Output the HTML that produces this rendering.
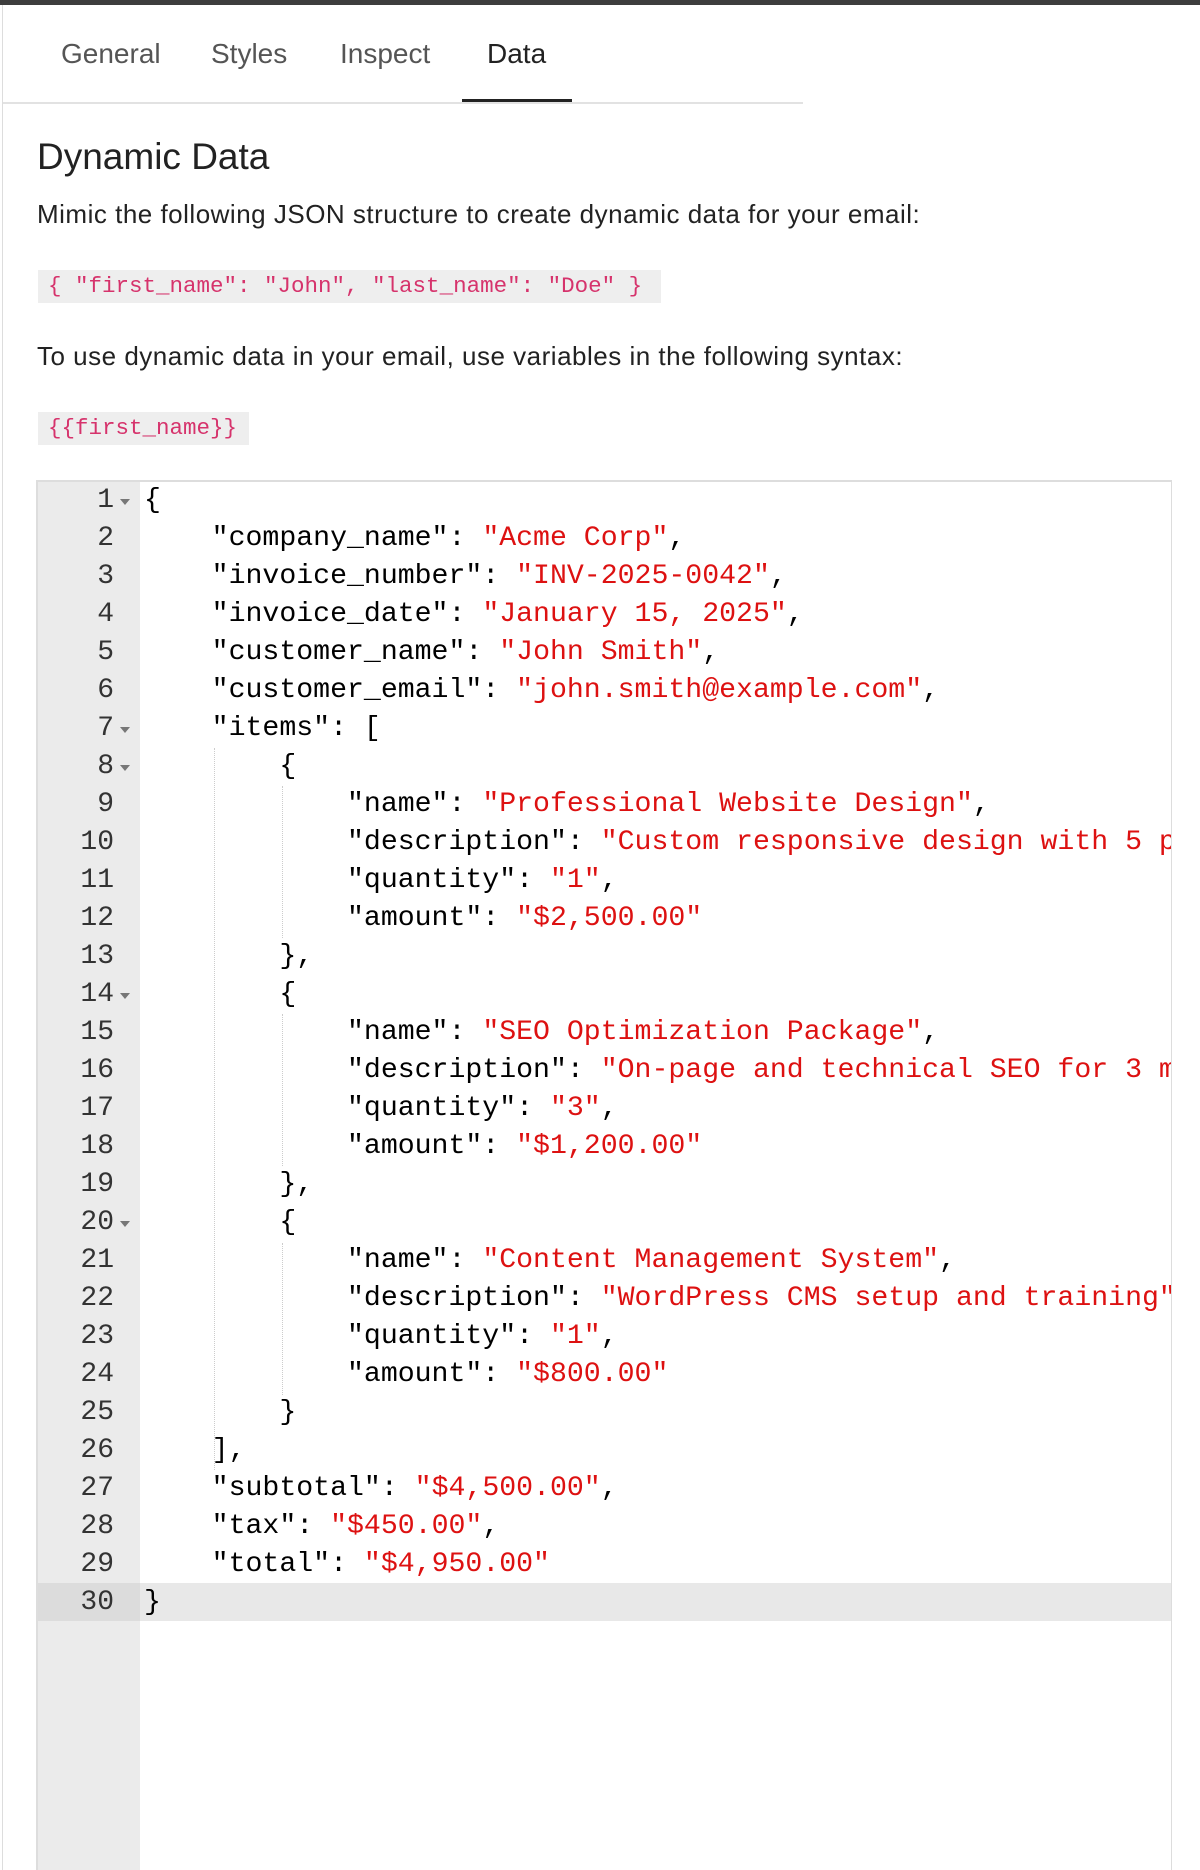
<!DOCTYPE html>
<html><head><meta charset="utf-8">
<style>
*{margin:0;padding:0;box-sizing:border-box}
body{width:1200px;height:1870px;overflow:hidden;background:#fff;position:relative;font-family:"Liberation Sans",sans-serif;color:#222}
.topbar{position:absolute;left:0;top:0;width:1200px;height:5px;background:#3d3d3d}
.lb{position:absolute;left:2px;top:5px;width:1px;height:1865px;background:#ddd}
.tab{position:absolute;top:38px;font-size:28px;color:#555}
.tabline{position:absolute;left:3px;top:102px;width:800px;height:2px;background:#e2e2e2}
.tabul{position:absolute;left:462px;top:99px;width:110px;height:3px;background:#222}
h1{position:absolute;left:37px;top:136px;font-size:37px;font-weight:normal;color:#222}
.p{position:absolute;left:37px;font-size:26px;letter-spacing:0.5px;color:#222;white-space:nowrap}
.cb{position:absolute;left:38px;height:33px;background:#eee;color:#d6336c;font-family:"Liberation Mono",monospace;font-size:22.5px;line-height:33px;padding-left:10px;white-space:pre}
.ed{position:absolute;left:36px;top:480px;width:1136px;height:1390px;border:2px solid #ddd;border-right:1px solid #ddd;border-bottom:none;overflow:hidden}
.gut{position:absolute;left:0;top:0;width:102px;height:1400px;background:#ebebeb}
.act{position:absolute;left:0;top:1101px;width:1140px;height:38px;background:#e8e8e8}
.actg{position:absolute;left:0;top:1101px;width:102px;height:38px;background:#dcdcdc}
.ln{position:absolute;left:0;width:76px;text-align:right;font-family:"Liberation Mono",monospace;font-size:28px;color:#333;line-height:38px}
.fold{position:absolute;left:82px;width:0;height:0;border-left:5px solid transparent;border-right:5px solid transparent;border-top:6px solid #777}
.cl{position:absolute;left:106px;font-family:"Liberation Mono",monospace;font-size:28.2px;line-height:38px;white-space:pre;color:#000}
.s{color:#dd1111}
.guide{position:absolute;width:0;border-left:1px dotted #ccc}
</style></head><body>
<div class="topbar"></div><div class="lb"></div>
<div class="tab" style="left:61px">General</div>
<div class="tab" style="left:211px">Styles</div>
<div class="tab" style="left:340px">Inspect</div>
<div class="tab" style="left:487px;color:#222">Data</div>
<div class="tabline"></div><div class="tabul"></div>
<h1>Dynamic Data</h1>
<div class="p" style="top:199px">Mimic the following JSON structure to create dynamic data for your email:</div>
<div class="cb" style="top:270px;width:623px">{ "first_name": "John", "last_name": "Doe" }</div>
<div class="p" style="top:341px">To use dynamic data in your email, use variables in the following syntax:</div>
<div class="cb" style="top:412px;width:211px">{{first_name}}</div>
<div class="ed">
<div class="gut"></div>
<div class="act"></div><div class="actg"></div>
<div class="guide" style="left:176px;top:266px;height:722px"></div>
<div class="guide" style="left:244px;top:304px;height:152px"></div>
<div class="guide" style="left:244px;top:532px;height:152px"></div>
<div class="guide" style="left:244px;top:761px;height:152px"></div>
<div class="ln" style="top:0">1</div>
<div class="ln" style="top:38px">2</div>
<div class="ln" style="top:76px">3</div>
<div class="ln" style="top:114px">4</div>
<div class="ln" style="top:152px">5</div>
<div class="ln" style="top:190px">6</div>
<div class="ln" style="top:228px">7</div>
<div class="ln" style="top:266px">8</div>
<div class="ln" style="top:304px">9</div>
<div class="ln" style="top:342px">10</div>
<div class="ln" style="top:380px">11</div>
<div class="ln" style="top:418px">12</div>
<div class="ln" style="top:456px">13</div>
<div class="ln" style="top:494px">14</div>
<div class="ln" style="top:532px">15</div>
<div class="ln" style="top:570px">16</div>
<div class="ln" style="top:608px">17</div>
<div class="ln" style="top:646px">18</div>
<div class="ln" style="top:684px">19</div>
<div class="ln" style="top:722px">20</div>
<div class="ln" style="top:760px">21</div>
<div class="ln" style="top:798px">22</div>
<div class="ln" style="top:836px">23</div>
<div class="ln" style="top:874px">24</div>
<div class="ln" style="top:912px">25</div>
<div class="ln" style="top:950px">26</div>
<div class="ln" style="top:988px">27</div>
<div class="ln" style="top:1026px">28</div>
<div class="ln" style="top:1064px">29</div>
<div class="ln" style="top:1102px">30</div>
<div class="fold" style="top:17px"></div>
<div class="fold" style="top:245px"></div>
<div class="fold" style="top:283px"></div>
<div class="fold" style="top:511px"></div>
<div class="fold" style="top:739px"></div>
<div class="cl" style="top:0">{</div>
<div class="cl" style="top:38px">    "company_name": <span class="s">"Acme Corp"</span>,</div>
<div class="cl" style="top:76px">    "invoice_number": <span class="s">"INV-2025-0042"</span>,</div>
<div class="cl" style="top:114px">    "invoice_date": <span class="s">"January 15, 2025"</span>,</div>
<div class="cl" style="top:152px">    "customer_name": <span class="s">"John Smith"</span>,</div>
<div class="cl" style="top:190px">    "customer_email": <span class="s">"john.smith@example.com"</span>,</div>
<div class="cl" style="top:228px">    "items": [</div>
<div class="cl" style="top:266px">        {</div>
<div class="cl" style="top:304px">            "name": <span class="s">"Professional Website Design"</span>,</div>
<div class="cl" style="top:342px">            "description": <span class="s">"Custom responsive design with 5 pages"</span>,</div>
<div class="cl" style="top:380px">            "quantity": <span class="s">"1"</span>,</div>
<div class="cl" style="top:418px">            "amount": <span class="s">"$2,500.00"</span></div>
<div class="cl" style="top:456px">        },</div>
<div class="cl" style="top:494px">        {</div>
<div class="cl" style="top:532px">            "name": <span class="s">"SEO Optimization Package"</span>,</div>
<div class="cl" style="top:570px">            "description": <span class="s">"On-page and technical SEO for 3 months"</span>,</div>
<div class="cl" style="top:608px">            "quantity": <span class="s">"3"</span>,</div>
<div class="cl" style="top:646px">            "amount": <span class="s">"$1,200.00"</span></div>
<div class="cl" style="top:684px">        },</div>
<div class="cl" style="top:722px">        {</div>
<div class="cl" style="top:760px">            "name": <span class="s">"Content Management System"</span>,</div>
<div class="cl" style="top:798px">            "description": <span class="s">"WordPress CMS setup and training"</span>,</div>
<div class="cl" style="top:836px">            "quantity": <span class="s">"1"</span>,</div>
<div class="cl" style="top:874px">            "amount": <span class="s">"$800.00"</span></div>
<div class="cl" style="top:912px">        }</div>
<div class="cl" style="top:950px">    ],</div>
<div class="cl" style="top:988px">    "subtotal": <span class="s">"$4,500.00"</span>,</div>
<div class="cl" style="top:1026px">    "tax": <span class="s">"$450.00"</span>,</div>
<div class="cl" style="top:1064px">    "total": <span class="s">"$4,950.00"</span></div>
<div class="cl" style="top:1102px">}</div>
</div>
</body></html>
